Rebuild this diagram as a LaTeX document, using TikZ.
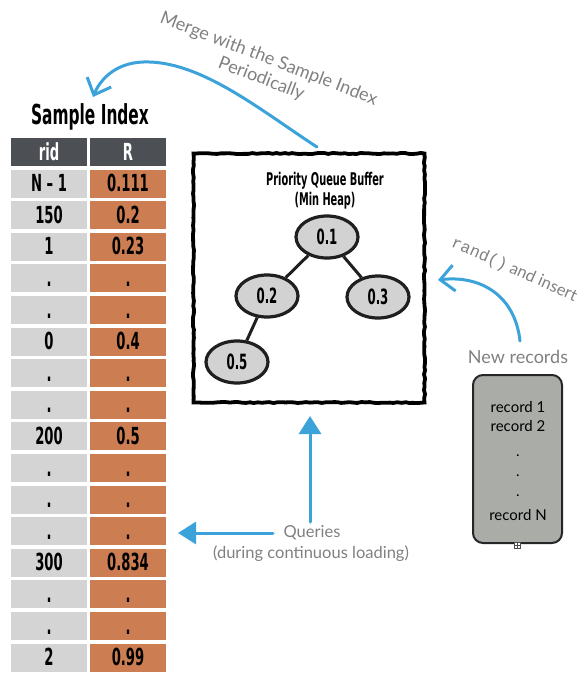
\documentclass[tikz,border=0pt]{standalone}
\usepackage{fontspec}
\setmainfont{Lato}
\newfontfamily\din[FakeStretch=0.56]{DejaVu Sans}
\newfontfamily\codefont{Liberation Mono}
\usetikzlibrary{arrows.meta,shapes.geometric,decorations.pathmorphing}

\definecolor{hdrgray}{HTML}{4C4F54}
\definecolor{ridgray}{HTML}{D4D4D4}
\definecolor{rorange}{HTML}{CC7E52}
\definecolor{sketchblue}{HTML}{3BA3D9}
\definecolor{notegray}{HTML}{808080}
\definecolor{recfill}{HTML}{A9ACA7}
\definecolor{heapfill}{HTML}{D2D2D2}

\begin{document}
\begin{tikzpicture}[x=1pt,y=-1pt,
  cellbase/.style={minimum width=76pt, minimum height=28pt, inner sep=0pt,
    text height=16pt, text depth=0pt,
    font=\din\bfseries\fontsize{23.5}{26}\selectfont},
  hcell/.style={cellbase, fill=hdrgray, text=white},
  lcell/.style={cellbase, fill=ridgray},
  rcell/.style={cellbase, fill=rorange},
  rough/.style={decorate, decoration={random steps, segment length=4pt, amplitude=0.6pt}},
  heapnode/.style={ellipse, minimum width=62pt, minimum height=42pt, inner sep=0pt,
    fill=heapfill, draw=black!88, line width=3.2pt,
    font=\din\bfseries\fontsize{21}{24}\selectfont},
  heapedge/.style={draw=black!88, line width=3pt},
  note/.style={text=notegray, font=\fontsize{18}{22}\selectfont},
  recline/.style={anchor=base, font=\fontsize{15}{18}\selectfont},
  bluestroke/.style={draw=sketchblue, line width=3pt, line cap=round},
  barb/.style={-{Straight Barb[length=14pt, width=26pt, line width=3pt]}},
  solidtip/.style={-{Triangle[length=18pt, width=22pt]}}
]
\pgfmathsetseed{11}
\useasboundingbox (0,0) rectangle (581,673);

% ---------- Sample Index table ----------
\node[font=\din\bfseries\fontsize{27.5}{30}\selectfont] (title) at (90,117) {Sample Index};
\node[hcell] (h1) at (49,152) {rid};
\node[hcell] (h2) at (128,152) {R};
\foreach [count=\i] \a/\b in {N – 1/0.111, 150/0.2, 1/0.23, ./., ./., 0/0.4, ./., ./.,
    200/0.5, ./., ./., ./., 300/0.834, ./., ./., 2/0.99} {
  \node[lcell] (l\i) at (49,152+31.6*\i) {\a};
  \node[rcell] (r\i) at (128,152+31.6*\i) {\b};
}

% ---------- Priority queue buffer ----------
\node[draw=black, line width=3.8pt, rough, minimum width=231pt, minimum height=249pt,
  inner sep=0pt] (pq) at (309,278) {};
\node[font=\din\bfseries\fontsize{17.5}{20}\selectfont] (pqt1) at (325,181) {Priority Queue Buffer};
\node[font=\din\bfseries\fontsize{17.5}{20}\selectfont] (pqt2) at (325,201) {(Min Heap)};

\node[heapnode] (e1) at (327,237) {0.1};
\node[heapnode] (e2) at (267,296) {0.2};
\node[heapnode] (e3) at (378,297) {0.3};
\node[heapnode] (e5) at (237,362) {0.5};
\draw[heapedge] (e1) -- (e2);
\draw[heapedge] (e1) -- (e3);
\draw[heapedge] (e2) -- (e5);

% ---------- New records ----------
\node[note] (newrec) at (518,357) {New records};
\node[draw=black!85, line width=2pt, fill=recfill, rounded corners=10pt,
  minimum width=89pt, minimum height=168pt] (rec) at (517.5,459) {};
\node[recline] (rl1) at (518,412) {record 1};
\node[recline] (rl2) at (518,431) {record 2};
\node[recline] (rl3) at (518,456) {.};
\node[recline] (rl4) at (518,476) {.};
\node[recline] (rl5) at (518,496) {.};
\node[recline] (rl6) at (518,520) {record N};
\node[draw=black!70, fill=white, line width=0.6pt, minimum size=6pt, inner sep=0pt,
  path picture={\draw[line width=0.5pt] (path picture bounding box.north) -- (path picture bounding box.south)
    (path picture bounding box.west) -- (path picture bounding box.east);}] (handle) at (517.5,545) {};

% ---------- annotations ----------
\node[note, rotate=-21, align=center, font=\fontsize{18}{21}\selectfont] (mergetxt) at (265,69)
  {Merge with the Sample Index\\Periodically};
\node[note, rotate=-24, anchor=west, font=\fontsize{16.5}{19}\selectfont] (randtxt) at (449,241)
  {{\codefont rand()} and insert};
\node[note, font=\fontsize{16.5}{19}\selectfont] (queries) at (312,533) {Queries};
\node[note, font=\fontsize{16.5}{19}\selectfont] (queries2) at (311,554) {(during continuous loading)};

% ---------- blue arrows ----------
\coordinate (mstart) at (317,147);
\coordinate (mend) at (93,97);
\draw[bluestroke, barb] (mstart) .. controls (260,110) and (200,60) .. (143,62)
  .. controls (115,63) and (100,80) .. (mend);

\coordinate (rstart) at (520,341);
\coordinate (rend) at (438,280);
\draw[bluestroke, barb] (rstart) .. controls (515,295) and (480,275) .. (rend);

\coordinate (qup0) at (310,522);
\coordinate (qup1) at (310,416);
\draw[bluestroke, solidtip] (qup0) -- (qup1);
\coordinate (qleft0) at (273,533);
\coordinate (qleft1) at (178,533);
\draw[bluestroke, solidtip] (qleft0) -- (qleft1);
\end{tikzpicture}
\end{document}
